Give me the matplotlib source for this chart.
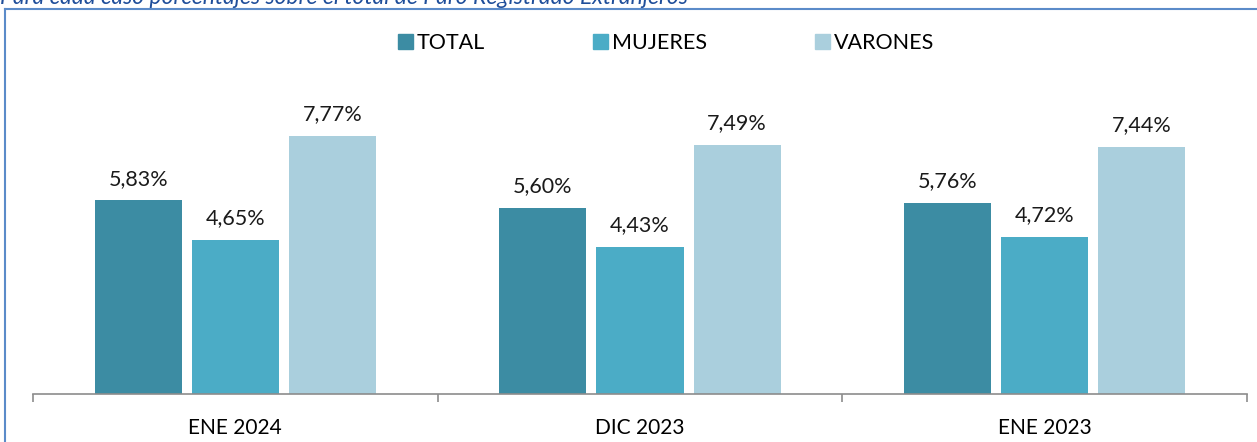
import matplotlib
matplotlib.use("Agg")
import matplotlib.pyplot as plt
from matplotlib.lines import Line2D
from matplotlib.patches import Patch
import numpy as np

categories = ["ENE 2024", "DIC 2023", "ENE 2023"]
series = ["TOTAL", "MUJERES", "VARONES"]
total = [5.83, 5.60, 5.76]
mujeres = [4.65, 4.43, 4.72]
varones = [7.77, 7.49, 7.44]
colors = ["#3C8CA3", "#4BACC6", "#AACFDD"]
subtitle = "Para cada caso porcentajes sobre el total de Paro Registrado Extranjeros"

plt.rcParams["font.family"] = ["Lato", "DejaVu Sans"]

W, H = 1257, 442
fig = plt.figure(figsize=(W / 100, H / 100), dpi=100)

# axes: baseline at y=394 px, x from 33 to 1247 px
ax_left, ax_right, ax_bottom, ax_top = 33, 1247, 394, 95
ax = fig.add_axes([ax_left / W, 1 - ax_bottom / H,
                   (ax_right - ax_left) / W, (ax_bottom - ax_top) / H])

x = np.arange(len(categories))
width = 0.215
step = 0.24
for i, (name, vals) in enumerate(zip(series, [total, mujeres, varones])):
    pos = x + (i - 1) * step
    bars = ax.bar(pos, vals, width, color=colors[i], label=name)
    for b, v in zip(bars, vals):
        ax.text(b.get_x() + b.get_width() / 2, v + 0.35,
                f"{v:.2f}%".replace(".", ","), ha="center", va="bottom",
                fontsize=15.5, color="#1a1a1a")

ax.set_xlim(-0.5, len(categories) - 0.5)
ax.set_ylim(0, 9.0)
ax.set_yticks([])
for s in ["top", "right", "left"]:
    ax.spines[s].set_visible(False)
ax.spines["bottom"].set_color("#8c8c8c")
ax.spines["bottom"].set_linewidth(1.2)
ax.set_xticks(np.arange(len(categories) + 1) - 0.5)
ax.set_xticklabels([])
ax.set_xticks(x, minor=True)
ax.set_xticklabels(categories, minor=True, fontsize=15)
ax.tick_params(axis="x", which="major", length=6, width=1.2, color="#8c8c8c")
ax.tick_params(axis="x", which="minor", length=0, pad=17)

handles = [Patch(color=c, label=s) for c, s in zip(colors, series)]
fig.legend(handles=handles, loc="center", bbox_to_anchor=(666 / W, 1 - 43 / H),
           ncol=3, frameon=False, fontsize=15.5, handlelength=0.7,
           handleheight=0.7, handletextpad=0.2, columnspacing=5.0)

# frame lines and subtitle (clipped at the top edge as in the source)
fig.add_artist(Line2D([5 / W, 5 / W], [0, 1 - 9 / H], color="#5B8BC9", lw=1.5))
fig.add_artist(Line2D([5 / W, 1], [1 - 9 / H, 1 - 9 / H], color="#5B8BC9", lw=1.5))
fig.text(0 / W, 1 - 4 / H, subtitle, fontsize=16.5, style="italic",
         color="#1F4E9A", ha="left", va="baseline")

fig.savefig("out.png", dpi=100)
